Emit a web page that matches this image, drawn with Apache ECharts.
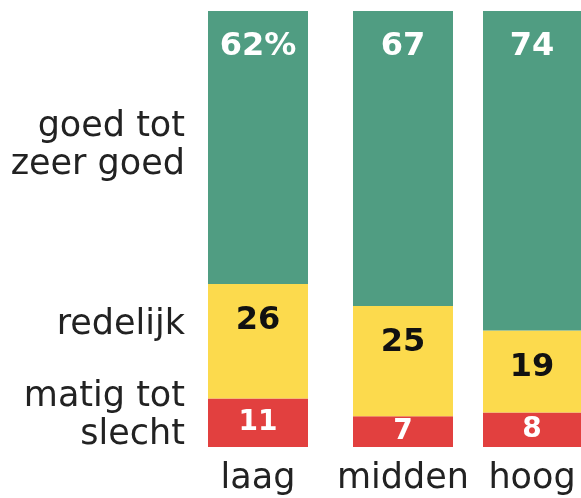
<!DOCTYPE html>
<html>
<head>
<meta charset="utf-8">
<script src="https://cdn.jsdelivr.net/npm/echarts@6/dist/echarts.min.js"></script>
<style>
  html, body { margin: 0; padding: 0; background: #fff; }
  #chart { width: 581px; height: 498px; }
</style>
</head>
<body>
<div id="chart"></div>
<script>
// opleidingsniveau
const categories = ['laag', 'midden', 'hoog']
// percentages per categorie
const goed = [62, 67, 74]
const redelijk = [26, 25, 19]
const matig = [11, 7, 8]
const names = ['goed tot\nzeer goed', 'redelijk', 'matig tot\nslecht']

const colors = { goed: '#509d82', redelijk: '#fcda4d', matig: '#e2403f' }
const barLeft = [208, 353, 483] // kolommen staan niet op gelijke afstand
const font = 'DejaVu Sans'

const grids = []
const xAxes = []
const yAxes = []
const series = []

categories.forEach((cat, i) => {
  const total = goed[i] + redelijk[i] + matig[i]
  grids.push({ left: barLeft[i], width: 100, top: 11, height: 436 })
  xAxes.push({
    type: 'category',
    gridIndex: i,
    data: [cat],
    axisLine: { show: false },
    axisTick: { show: false },
    axisLabel: { fontFamily: font, fontSize: 35, color: '#222', margin: 14 }
  })
  yAxes.push({ type: 'value', gridIndex: i, min: 0, max: total, show: false })

  const base = { type: 'bar', xAxisIndex: i, yAxisIndex: i, stack: 's' + i, barCategoryGap: 0, barWidth: 100 }
  series.push(Object.assign({}, base, {
    name: 'matig',
    data: [matig[i]],
    itemStyle: { color: colors.matig },
    label: { show: true, position: 'inside', color: '#fff', fontFamily: font, fontWeight: 'bold', fontSize: 28 }
  }))
  series.push(Object.assign({}, base, {
    name: 'redelijk',
    data: [redelijk[i]],
    itemStyle: { color: colors.redelijk },
    label: { show: true, position: 'insideTop', distance: 21, color: '#111', fontFamily: font, fontWeight: 'bold', fontSize: 32 }
  }))
  series.push(Object.assign({}, base, {
    name: 'goed',
    data: [goed[i]],
    itemStyle: { color: colors.goed },
    label: {
      show: true,
      position: 'insideTop',
      distance: 20,
      color: '#fff',
      fontFamily: font,
      fontWeight: 'bold',
      fontSize: 32,
      formatter: p => i === 0 ? p.value + '%' : '' + p.value
    }
  }))
})

const chart = echarts.init(document.getElementById('chart'))
chart.setOption({
  animation: false,
  grid: grids,
  xAxis: xAxes,
  yAxis: yAxes,
  series: series
})

// namen links naast de eerste kolom, op het midden van elk segment
const segs = [goed[0], redelijk[0], matig[0]]
const starts = [matig[0] + redelijk[0], matig[0], 0]
const nudge = [-2, -16, -7]
const texts = segs.map((v, k) => {
  const y = chart.convertToPixel({ yAxisIndex: 0 }, starts[k] + v / 2)
  return {
    type: 'text',
    style: {
      text: names[k],
      x: 185,
      y: y + nudge[k],
      align: 'right',
      verticalAlign: 'middle',
      fontFamily: font,
      fontSize: 35,
      lineHeight: 38,
      fill: '#222'
    }
  }
})
chart.setOption({ graphic: texts })
</script>
</body>
</html>
